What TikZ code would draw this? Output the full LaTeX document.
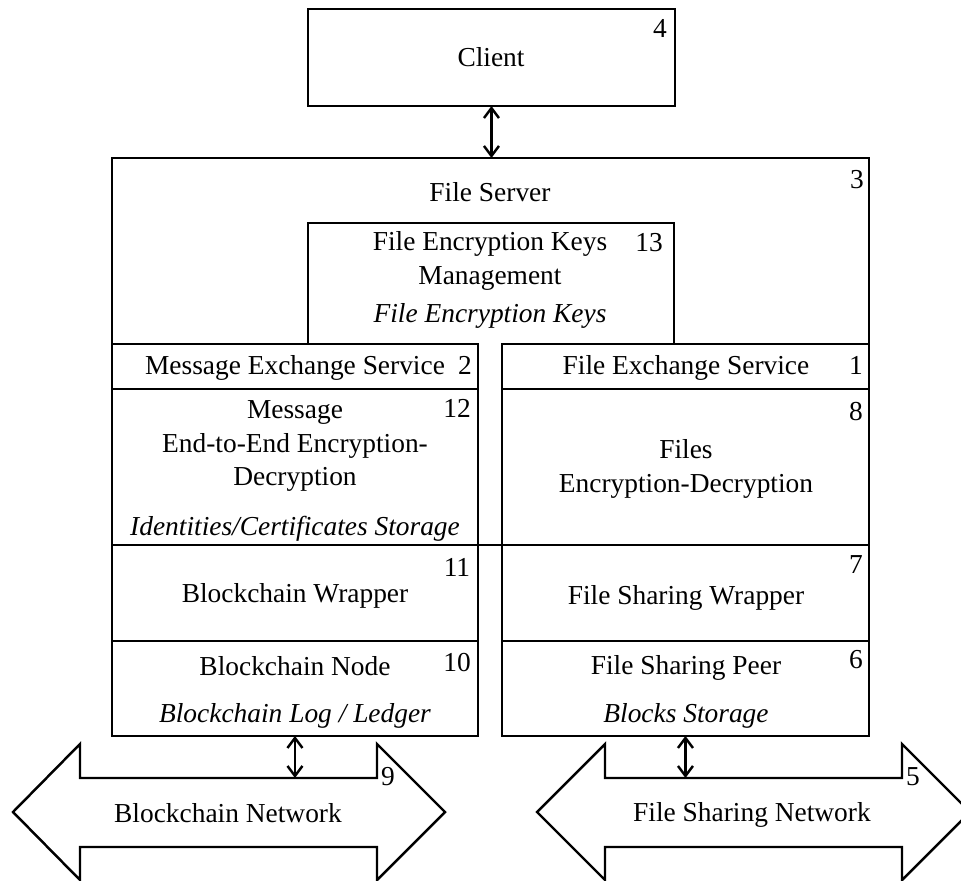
\documentclass[tikz,border=0pt]{standalone}
\usepackage{fontspec}
\setmainfont{Liberation Serif}
\usetikzlibrary{positioning,arrows.meta}

\begin{document}
\begin{tikzpicture}[x=0.02cm,y=-0.02cm,line width=1.4pt,node distance=0pt,
  box/.style={draw,rectangle,inner sep=0pt,outer sep=0pt},
  frame/.style={rectangle,inner sep=0pt,outer sep=0pt,anchor=north west},
  txt/.style={align=center,font=\fontsize{15.6}{19}\selectfont,inner sep=0pt},
  num/.style={font=\fontsize{15.6}{19}\selectfont,inner sep=0pt},
  link/.style={{Straight Barb[length=2mm,width=3mm]}-{Straight Barb[length=2mm,width=3mm]}}]
\useasboundingbox (0,0) rectangle (961,880);
\clip (0,0) rectangle (961,880);
% client and file server
\node[box,anchor=north west,minimum width=7.34cm,minimum height=1.94cm] (CL) at (308,9) {};
\node[frame,minimum width=15.14cm,minimum height=3.72cm] (FS) at (112,158) {};
\node[frame,minimum width=7.32cm,minimum height=2.42cm] (KM) at (308,223) {};
\draw (FS.south west) |- (FS.north east) -- (FS.south east);
\draw (KM.south west) |- (KM.north east) -- (KM.south east);
% left column
\node[box,anchor=north west,minimum width=7.32cm,minimum height=0.9cm] (MES) at (112,344) {};
\node[box,below=of MES,minimum width=7.32cm,minimum height=3.12cm] (MED) {};
\node[box,below=of MED,minimum width=7.32cm,minimum height=1.92cm] (BW) {};
\node[box,below=of BW,minimum width=7.32cm,minimum height=1.9cm] (BN) {};
% right column
\node[box,anchor=north west,minimum width=7.34cm,minimum height=0.9cm] (FES) at (502,344) {};
\node[box,below=of FES,minimum width=7.34cm,minimum height=3.12cm] (FED) {};
\node[box,below=of FED,minimum width=7.34cm,minimum height=1.92cm] (FSW) {};
\node[box,below=of FSW,minimum width=7.34cm,minimum height=1.9cm] (FSP) {};
\draw[line width=0.7pt] (MED.south east) -- (FED.south west);
% networks
\draw (13,812) -- (80,744) -- (80,778) -- (377,778) -- (377,744) -- (445,812)
  -- (377,880) -- (377,847) -- (80,847) -- (80,880) -- cycle;
\draw (537,812) -- (605,744) -- (605,778) -- (902,778) -- (902,744) -- (970,812)
  -- (902,880) -- (902,847) -- (605,847) -- (605,880) -- cycle;
\coordinate (BNin) at (BN.south |- 0,778);
\coordinate (FSNin) at (FSP.south |- 0,778);
% texts
\node[txt] (CLt) at (491,57) {Client};
\node[txt] (FSt) at (490,192) {File Server};
\node[txt] (KMt) at (490,261) {File Encryption Keys\\Management};
\node[txt] (KMi) at (490,316) {\itshape File Encryption Keys};
\node[txt] (MESt) at (295,368) {Message Exchange Service};
\node[txt] (FESt) at (686,368) {File Exchange Service};
\node[txt] (MEDt) at (295,446) {Message\\End-to-End Encryption-\\Decryption};
\node[txt] (MEDi) at (295,529) {\itshape Identities/Certificates Storage};
\node[txt] (FEDt) at (686,469) {Files\\Encryption-Decryption};
\node[txt] (BWt) at (295,596) {Blockchain Wrapper};
\node[txt] (FSWt) at (686,598) {File Sharing Wrapper};
\node[txt] (BNt) at (295,666) {Blockchain Node};
\node[txt] (BNi) at (295,716) {\itshape Blockchain Log / Ledger};
\node[txt] (FSPt) at (686,668) {File Sharing Peer};
\node[txt] (FSPi) at (686,716) {\itshape Blocks Storage};
\node[txt] (BCN) at (228,813) {Blockchain Network};
\node[txt] (FSN) at (752,815) {File Sharing Network};
% numbers
\node[num] (n1) at (856,365) {1};
\node[num] (n2) at (465,365) {2};
\node[num] (n3) at (857,180) {3};
\node[num] (n4) at (660,28) {4};
\node[num] (n5) at (913,777) {5};
\node[num] (n6) at (856,660) {6};
\node[num] (n7) at (856,565) {7};
\node[num] (n8) at (856,412) {8};
\node[num] (n9) at (388,777) {9};
\node[num] (n10) at (457,663) {10};
\node[num] (n11) at (457,567) {11};
\node[num] (n12) at (457,408) {12};
\node[num] (n13) at (649,243) {13};
% links
\draw[link] (CL.south) -- (CL.south |- FS.north);
\draw[link] (BN.south) -- (BNin);
\draw[link] (FSP.south) -- (FSNin);
\end{tikzpicture}
\end{document}
